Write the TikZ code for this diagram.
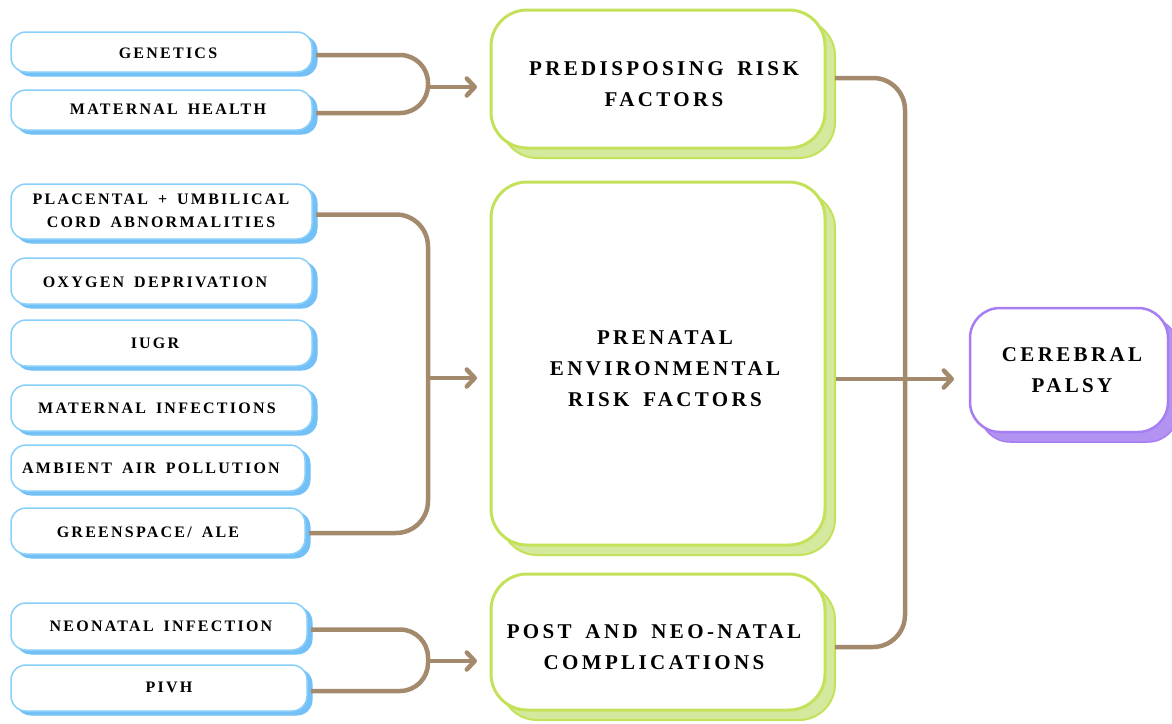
\documentclass[tikz,border=0pt]{standalone}
\usepackage{fontspec}
\setmainfont{Liberation Serif}
\newfontfamily\smallcaps{Liberation Serif}[LetterSpace=14,WordSpace=1.6]
\newfontfamily\bigcaps{Liberation Serif}[LetterSpace=16,WordSpace=1.6]
\usetikzlibrary{arrows.meta,shadows}

\definecolor{linkbrown}{HTML}{A38A6D}
\definecolor{blueedge}{HTML}{88CFFA}
\definecolor{blueshade}{HTML}{72C0F6}
\definecolor{greenedge}{HTML}{C3E25A}
\definecolor{greenshade}{HTML}{D5E99E}
\definecolor{purpleedge}{HTML}{A77DF2}
\definecolor{purpleshade}{HTML}{B393F2}

\tikzset{
  x=1pt, y=-1pt,
  causebox/.style={rectangle, draw=blueedge, line width=1.5pt, fill=white,
    rounded corners=15pt, inner sep=0pt, outer sep=0pt,
    general shadow={shadow xshift=5pt, shadow yshift=-4pt, fill=blueshade,
      draw=blueshade, line width=1pt}},
  groupbox/.style={rectangle, draw=greenedge, line width=3pt, fill=white,
    rounded corners=36pt, inner sep=0pt, outer sep=0pt,
    general shadow={shadow xshift=10pt, shadow yshift=-10pt, fill=greenshade,
      draw=greenedge, line width=2pt}},
  resultbox/.style={rectangle, draw=purpleedge, line width=2.5pt, fill=white,
    rounded corners=30pt, inner sep=0pt, outer sep=0pt,
    general shadow={shadow xshift=10pt, shadow yshift=-10pt, fill=purpleshade,
      draw=purpleedge, line width=1.5pt}},
  causetext/.style={font=\smallcaps\bfseries\fontsize{16}{23}\selectfont,
    align=center, inner sep=0pt, text=black},
  grouptext/.style={font=\bigcaps\bfseries\fontsize{21}{31}\selectfont,
    align=center, inner sep=0pt, text=black},
  link/.style={draw=linkbrown, line width=4.5pt},
  linkarrow/.style={link, -{Straight Barb[length=8pt,width=17pt,round]}},
}

\begin{document}
\begin{tikzpicture}
\useasboundingbox (0,0) rectangle (1172,723);

% left column: individual factors
\node[causebox, minimum width=301pt, minimum height=40pt] (gen)  at (161.5,52)  {};
\node[causebox, minimum width=301pt, minimum height=40pt] (mat)  at (161.5,110) {};
\node[causebox, minimum width=301pt, minimum height=55pt] (plac) at (161.5,211.5) {};
\node[causebox, minimum width=301pt, minimum height=46pt] (oxy)  at (161.5,281) {};
\node[causebox, minimum width=301pt, minimum height=46pt] (iugr) at (161.5,343) {};
\node[causebox, minimum width=301pt, minimum height=46pt] (inf)  at (161.5,408) {};
\node[causebox, minimum width=294pt, minimum height=46pt] (air)  at (158,468)   {};
\node[causebox, minimum width=294pt, minimum height=46pt] (green) at (158,531)  {};
\node[causebox, minimum width=296pt, minimum height=47pt] (neo)  at (159,626.5) {};
\node[causebox, minimum width=296pt, minimum height=46pt] (pivh) at (159,688)   {};

\node[causetext] (gen-t)   at (168,53)    {GENETICS};
\node[causetext] (mat-t)   at (168,109)   {MATERNAL HEALTH};
\node[causetext] (plac-t)  at (161,210.5) {PLACENTAL + UMBILICAL\\CORD ABNORMALITIES};
\node[causetext] (oxy-t)   at (155,282)   {OXYGEN DEPRIVATION};
\node[causetext] (iugr-t)  at (155,343)   {IUGR};
\node[causetext] (inf-t)   at (157,408)   {MATERNAL INFECTIONS};
\node[causetext] (air-t)   at (151,468)   {AMBIENT AIR POLLUTION};
\node[causetext] (green-t) at (148,532)   {GREENSPACE/ ALE};
\node[causetext] (neo-t)   at (161,626)   {NEONATAL INFECTION};
\node[causetext] (pivh-t)  at (169,687)   {PIVH};

% middle column: groups of risk factors
\node[groupbox, minimum width=334pt, minimum height=138pt] (pred) at (658,79)    {};
\node[groupbox, minimum width=334pt, minimum height=363pt] (pren) at (658,363.5) {};
\node[groupbox, minimum width=334pt, minimum height=136pt] (post) at (658,642)   {};

\node[grouptext] (pred-t) at (664,84.5) {PREDISPOSING RISK\\FACTORS};
\node[grouptext] (pren-t) at (665,369)  {PRENATAL\\ENVIRONMENTAL\\RISK FACTORS};
\node[grouptext] (post-t) at (654,647)  {POST AND NEO-NATAL\\COMPLICATIONS};

% outcome
\node[resultbox, minimum width=198pt, minimum height=124pt] (cp) at (1069,370) {};
\node[grouptext] (cp-t) at (1072,370.5) {CEREBRAL\\PALSY};

% bus lines and junction points
\coordinate (busL) at (428,0);
\coordinate (busR) at (905,0);
\coordinate (jA) at (428,87);
\coordinate (jB) at (428,378);
\coordinate (jC) at (428,661);
\coordinate (jD) at (836,379);

% predisposing group
\draw[link, rounded corners=28pt]
  ([xshift=4pt,yshift=-3pt]gen.east) -| ([yshift=-3pt]busL |- mat.east)
  -- ([xshift=4pt,yshift=-3pt]mat.east);
\draw[linkarrow, shorten >=14pt] (jA) -- (jA -| pred.west);

% prenatal environmental group
\draw[link, rounded corners=32pt]
  ([xshift=4pt,yshift=-3pt]plac.east) -| ([yshift=-2pt]busL |- green.east)
  -- ([xshift=4pt,yshift=-2pt]green.east);
\draw[linkarrow, shorten >=14pt] (jB) -- (jB -| pren.west);

% post and neo-natal group
\draw[link, rounded corners=28pt]
  ([xshift=4pt,yshift=-3pt]neo.east) -| ([yshift=-3pt]busL |- pivh.east)
  -- ([xshift=4pt,yshift=-3pt]pivh.east);
\draw[linkarrow, shorten >=14pt] (jC) -- (jC -| post.west);

% all groups into the outcome
\draw[link, rounded corners=32pt]
  ([xshift=10pt,yshift=1pt]pred.east) -| ([yshift=-5pt]busR |- post.east)
  -- ([xshift=10pt,yshift=-5pt]post.east);
\draw[linkarrow, shorten >=16pt] (jD) -- (jD -| cp.west);
\end{tikzpicture}
\end{document}
